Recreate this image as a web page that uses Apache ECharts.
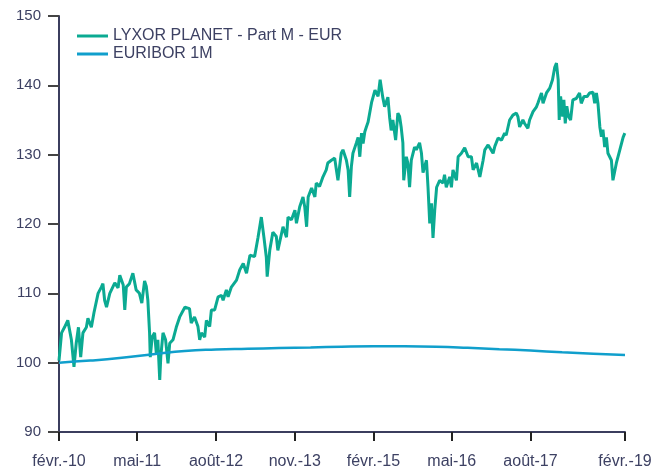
<!DOCTYPE html>
<html>
<head>
<meta charset="utf-8">
<script src="https://cdn.jsdelivr.net/npm/echarts@6/dist/echarts.min.js"></script>
<style>
  html, body { margin: 0; padding: 0; background: #fff; }
  #chart-root { width: 665px; height: 475px; }
</style>
</head>
<body>
<div id="chart-root"></div>
<script>
// x axis ticks (every 15 months + last)
var tickDates = ["2010-02-01", "2011-05-01", "2012-08-01", "2013-11-01", "2015-02-01", "2016-05-01", "2017-08-01", "2019-02-01"];
var tickLabels = ["févr.-10", "mai-11", "août-12", "nov.-13", "févr.-15", "mai-16", "août-17", "févr.-19"];

// LYXOR PLANET - Part M - EUR
var lyxorDates = [
  "2010-02-01", "2010-02-16", "2010-03-05", "2010-03-24", "2010-04-04", "2010-04-14", "2010-04-29", "2010-05-12",
  "2010-05-25", "2010-06-07", "2010-06-20", "2010-07-10", "2010-07-19", "2010-08-08", "2010-08-23", "2010-09-16",
  "2010-10-05", "2010-10-14", "2010-10-24", "2010-11-04", "2010-11-23", "2010-12-22", "2011-01-10", "2011-01-20",
  "2011-02-09", "2011-02-18", "2011-02-27", "2011-03-17", "2011-04-06", "2011-04-25", "2011-05-14", "2011-05-28",
  "2011-06-13", "2011-06-23", "2011-07-02", "2011-07-12", "2011-07-16", "2011-07-27", "2011-08-10", "2011-08-20",
  "2011-08-29", "2011-09-09", "2011-09-15", "2011-09-28", "2011-10-13", "2011-10-27", "2011-11-06", "2011-11-25",
  "2011-12-14", "2012-01-03", "2012-02-02", "2012-02-29", "2012-03-10", "2012-03-29", "2012-04-18", "2012-04-28",
  "2012-05-08", "2012-05-27", "2012-06-06", "2012-06-25", "2012-07-05", "2012-07-24", "2012-08-13", "2012-09-02",
  "2012-09-11", "2012-09-30", "2012-10-10", "2012-10-29", "2012-11-28", "2012-12-17", "2013-01-06", "2013-01-25",
  "2013-02-14", "2013-03-13", "2013-04-02", "2013-04-21", "2013-05-06", "2013-05-20", "2013-05-25", "2013-06-09",
  "2013-06-27", "2013-07-17", "2013-07-26", "2013-08-25", "2013-09-14", "2013-09-23", "2013-10-13", "2013-11-02",
  "2013-11-11", "2013-11-30", "2013-12-19", "2013-12-29", "2014-01-09", "2014-01-18", "2014-02-07", "2014-02-26",
  "2014-03-06", "2014-03-25", "2014-04-14", "2014-05-03", "2014-05-12", "2014-06-02", "2014-06-21", "2014-07-01",
  "2014-07-10", "2014-07-29", "2014-08-08", "2014-08-28", "2014-09-07", "2014-09-16", "2014-09-26", "2014-10-05",
  "2014-10-25", "2014-11-04", "2014-11-14", "2014-11-24", "2014-12-03", "2014-12-13", "2014-12-22", "2015-01-01",
  "2015-01-21", "2015-02-10", "2015-02-28", "2015-03-12", "2015-03-27", "2015-04-07", "2015-04-26", "2015-05-06",
  "2015-05-15", "2015-05-25", "2015-06-10", "2015-06-23", "2015-07-03", "2015-07-12", "2015-07-22", "2015-07-27",
  "2015-08-11", "2015-08-20", "2015-08-30", "2015-09-09", "2015-09-28", "2015-10-08", "2015-10-27", "2015-11-07",
  "2015-11-16", "2015-12-06", "2015-12-15", "2015-12-25", "2016-01-04", "2016-01-13", "2016-01-23", "2016-02-03",
  "2016-02-21", "2016-03-11", "2016-03-20", "2016-03-30", "2016-04-19", "2016-04-29", "2016-05-08", "2016-05-28",
  "2016-06-07", "2016-06-26", "2016-07-15", "2016-08-04", "2016-08-23", "2016-09-02", "2016-09-22", "2016-10-11",
  "2016-10-30", "2016-11-09", "2016-11-28", "2016-12-27", "2017-01-06", "2017-01-25", "2017-02-14", "2017-03-04",
  "2017-03-13", "2017-04-02", "2017-04-21", "2017-05-11", "2017-05-20", "2017-05-30", "2017-06-18", "2017-06-28",
  "2017-07-17", "2017-07-27", "2017-08-16", "2017-09-05", "2017-09-14", "2017-10-04", "2017-10-13", "2017-11-02",
  "2017-11-21", "2017-12-07", "2017-12-20", "2017-12-30", "2018-01-09", "2018-01-15", "2018-01-23", "2018-02-04",
  "2018-02-11", "2018-02-19", "2018-02-28", "2018-03-10", "2018-03-22", "2018-04-04", "2018-04-24", "2018-05-13",
  "2018-05-23", "2018-06-08", "2018-06-27", "2018-07-10", "2018-07-30", "2018-08-09", "2018-08-19", "2018-08-28",
  "2018-09-08", "2018-09-17", "2018-09-26", "2018-10-06", "2018-10-16", "2018-10-25", "2018-11-14", "2018-11-23",
  "2018-12-13", "2019-01-02", "2019-01-21", "2019-01-31"
];
var lyxorValues = [
  100.3, 104.3, 105.1, 106.1, 105.9, 103.3, 99.4, 102.8,
  105.1, 100.8, 104.3, 105.1, 106.4, 105.1, 107.2, 110.0,
  110.9, 111.4, 109.0, 108.0, 110.0, 111.5, 110.8, 112.6,
  111.2, 107.6, 110.9, 111.4, 112.9, 110.5, 110.0, 108.6,
  111.8, 111.0, 109.0, 104.3, 100.8, 103.7, 104.3, 101.4,
  103.3, 97.5, 100.8, 104.3, 103.3, 99.9, 102.8, 103.3,
  105.1, 106.6, 108.0, 107.8, 105.7, 106.6, 105.2, 103.3,
  104.3, 103.7, 106.1, 105.2, 107.6, 107.6, 109.5, 109.7,
  109.0, 110.5, 109.5, 110.9, 111.9, 113.4, 114.3, 112.9,
  115.5, 115.3, 118.1, 121.0, 118.1, 115.2, 112.4, 116.2,
  118.8, 118.2, 116.2, 119.6, 118.1, 121.0, 120.6, 122.0,
  120.1, 122.5, 123.9, 122.5, 119.6, 123.9, 125.2, 123.9,
  125.9, 125.4, 126.8, 127.8, 128.8, 129.2, 129.5, 127.8,
  126.3, 130.2, 130.7, 129.2, 127.8, 123.9, 128.3, 130.2,
  131.7, 132.5, 129.7, 133.1, 131.6, 133.3, 134.0, 134.7,
  137.5, 139.3, 138.4, 140.8, 138.3, 136.9, 138.3, 135.4,
  133.5, 135.0, 132.1, 136.0, 135.5, 134.0, 131.7, 126.3,
  129.7, 128.8, 125.3, 129.2, 131.1, 130.7, 131.7, 130.2,
  127.4, 129.2, 125.3, 120.1, 123.0, 118.0, 122.0, 125.3,
  126.3, 125.9, 127.1, 125.3, 126.8, 125.3, 127.8, 126.3,
  129.7, 130.2, 131.0, 129.7, 129.7, 127.8, 128.8, 126.8,
  129.2, 130.7, 131.4, 130.2, 131.2, 132.4, 132.1, 133.1,
  132.8, 135.0, 135.7, 136.0, 135.5, 134.0, 135.0, 134.5,
  133.8, 135.0, 136.2, 136.9, 137.5, 138.9, 137.4, 138.9,
  139.6, 140.8, 142.6, 143.2, 140.8, 135.0, 138.4, 135.5,
  137.9, 134.5, 137.0, 135.5, 135.0, 137.9, 138.1, 138.9,
  137.4, 138.4, 138.4, 138.9, 139.0, 137.4, 138.9, 137.4,
  134.0, 132.6, 133.6, 131.1, 132.5, 130.2, 129.2, 126.3,
  128.8, 130.7, 132.5, 133.1
];

// EURIBOR 1M
var euriborDates = [
  "2010-02-01", "2010-08-01", "2011-02-01", "2011-08-01", "2012-02-01", "2012-08-01", "2013-02-01",
  "2013-08-01", "2014-02-01", "2014-08-01", "2015-02-01", "2015-08-01", "2016-02-01", "2016-08-01",
  "2017-02-01", "2017-08-01", "2018-02-01", "2018-08-01", "2019-02-01"
];
var euriborValues = [
  100.0, 100.3, 100.7, 101.2, 101.7, 101.9, 102.0,
  102.1, 102.2, 102.3, 102.35, 102.35, 102.3, 102.15,
  101.95, 101.75, 101.5, 101.3, 101.1
];

function toTime(s) {
  return new Date(s + "T00:00:00").getTime();
}
function zip(dates, values) {
  return dates.map(function (d, i) { return [toTime(d), values[i]]; });
}
var tickTimes = tickDates.map(toTime);

var axisColor = "#3b3e5e";
var textColor = "#3d4163";
var font = "'Liberation Sans', Arial, sans-serif";

var chart = echarts.init(document.getElementById("chart-root"));
chart.setOption({
  animation: false,
  textStyle: { fontFamily: font },
  grid: { left: 59, right: 40, top: 16, bottom: 43, containLabel: false },
  legend: {
    orient: "vertical",
    left: 72,
    top: 23,
    itemWidth: 31,
    itemHeight: 3,
    itemGap: 2,
    itemTextGap: 7,
    icon: "rect",
    textStyle: { color: textColor, fontSize: 16, fontFamily: font },
    data: ["LYXOR PLANET - Part M - EUR", "EURIBOR 1M"]
  },
  xAxis: {
    type: "value",
    min: tickTimes[0],
    max: tickTimes[tickTimes.length - 1],
    axisLine: { lineStyle: { color: axisColor, width: 2 } },
    axisTick: {
      show: true,
      length: 9,
      customValues: tickTimes,
      lineStyle: { color: "#222", width: 2 }
    },
    axisLabel: {
      customValues: tickTimes,
      color: textColor,
      fontSize: 16,
      margin: 22,
      fontFamily: font,
      formatter: function (value) {
        var best = 0;
        for (var i = 1; i < tickTimes.length; i++) {
          if (Math.abs(tickTimes[i] - value) < Math.abs(tickTimes[best] - value)) best = i;
        }
        return tickLabels[best];
      }
    },
    splitLine: { show: false }
  },
  yAxis: {
    type: "value",
    min: 90,
    max: 150,
    interval: 10,
    axisLine: { show: true, lineStyle: { color: axisColor, width: 2 } },
    axisTick: { show: true, length: 11, lineStyle: { color: "#444", width: 2 } },
    axisLabel: { color: textColor, fontSize: 15, margin: 18, fontFamily: font },
    splitLine: { show: false }
  },
  series: [
    {
      name: "LYXOR PLANET - Part M - EUR",
      type: "line",
      showSymbol: false,
      symbol: "none",
      color: "#0baa92",
      lineStyle: { width: 3, color: "#0baa92" },
      data: zip(lyxorDates, lyxorValues)
    },
    {
      name: "EURIBOR 1M",
      type: "line",
      showSymbol: false,
      symbol: "none",
      smooth: true,
      color: "#109fcc",
      lineStyle: { width: 2.5, color: "#109fcc" },
      data: zip(euriborDates, euriborValues)
    }
  ]
});
</script>
</body>
</html>
